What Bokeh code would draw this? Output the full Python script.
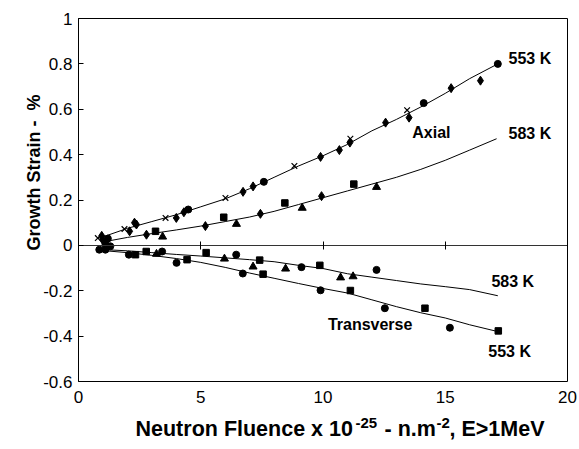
import math
from bokeh.plotting import figure
from bokeh.models import Label, FixedTicker, Range1d, LinearAxis, BoxAnnotation
from bokeh.embed import file_html
from bokeh.resources import INLINE

# ---------------- data ----------------
x_ticks = [0, 5, 10, 15, 20]
y_ticks = [-0.6, -0.4, -0.2, 0, 0.2, 0.4, 0.6, 0.8, 1]
y_tick_labels = ["-0.6", "-0.4", "-0.2", "0", "0.2", "0.4", "0.6", "0.8", "1"]

# Axial, 553 K
ax553_cross_x = [0.79, 1.88, 3.56, 6.01, 8.83, 11.12, 13.44]
ax553_cross_y = [0.032, 0.072, 0.121, 0.209, 0.35, 0.47, 0.596]
ax553_diam_x = [0.95, 2.09, 2.29, 2.37, 4.0, 4.31, 6.73, 7.14, 9.9, 10.67, 11.1, 12.56, 13.52, 15.24, 16.44]
ax553_diam_y = [0.042, 0.062, 0.10, 0.092, 0.121, 0.146, 0.236, 0.26, 0.39, 0.42, 0.453, 0.541, 0.563, 0.693, 0.726]
ax553_circ_x = [1.2, 4.49, 7.58, 14.12, 17.15]
ax553_circ_y = [0.03, 0.158, 0.28, 0.627, 0.80]
ax553_fit_x = [0.8, 2, 3, 4, 5, 6, 7, 8, 9, 10, 11, 12, 13, 14, 15, 16, 17.15]
ax553_fit_y = [0.03, 0.075, 0.105, 0.135, 0.17, 0.205, 0.25, 0.30, 0.35, 0.395, 0.445, 0.505, 0.555, 0.61, 0.67, 0.735, 0.80]

# Axial, 583 K
ax583_diam_x = [1.0, 2.78, 5.19, 7.44, 9.94]
ax583_diam_y = [0.022, 0.047, 0.085, 0.139, 0.217]
ax583_sq_x = [1.1, 3.15, 5.94, 8.44, 11.26]
ax583_sq_y = [0.008, 0.062, 0.124, 0.187, 0.27]
ax583_tri_x = [3.44, 6.46, 9.15, 12.19]
ax583_tri_y = [0.038, 0.094, 0.165, 0.257]
ax583_fit_x = [1.0, 2, 3, 4, 5, 6, 7, 8, 9, 10, 11, 12, 13, 14, 15, 16, 17.1]
ax583_fit_y = [0.015, 0.035, 0.052, 0.068, 0.085, 0.105, 0.125, 0.15, 0.18, 0.21, 0.24, 0.27, 0.30, 0.335, 0.375, 0.42, 0.47]

# Transverse
tr_circ_x = [0.85, 1.1, 1.3, 2.06, 3.42, 4.01, 6.45, 6.72, 9.12, 9.9, 12.19, 12.53, 15.19]
tr_circ_y = [-0.019, -0.019, -0.004, -0.041, -0.027, -0.077, -0.041, -0.124, -0.096, -0.198, -0.108, -0.277, -0.363]
tr_sq_x = [2.33, 2.77, 4.44, 5.22, 7.41, 7.55, 9.87, 11.12, 14.17, 17.17]
tr_sq_y = [-0.041, -0.027, -0.063, -0.032, -0.065, -0.127, -0.088, -0.199, -0.277, -0.377]
tr_tri_x = [3.19, 5.97, 7.14, 8.47, 10.72, 11.23]
tr_tri_y = [-0.038, -0.059, -0.094, -0.103, -0.142, -0.137]
tr583_fit_x = [0.9, 2, 3, 4, 5, 6, 7, 8, 9, 10, 11, 12, 13, 14, 15, 16, 17.15]
tr583_fit_y = [-0.018, -0.024, -0.032, -0.04, -0.047, -0.055, -0.063, -0.072, -0.088, -0.102, -0.125, -0.14, -0.155, -0.17, -0.182, -0.195, -0.222]
tr553_fit_x = [0.9, 2, 3, 4, 5, 6, 7, 8, 9, 10, 11, 12, 13, 14, 15, 16, 17.15]
tr553_fit_y = [-0.022, -0.032, -0.044, -0.058, -0.075, -0.097, -0.122, -0.145, -0.168, -0.19, -0.21, -0.24, -0.27, -0.297, -0.32, -0.35, -0.38]

X0, X1 = 0, 20
Y0, Y1 = -0.6, 1

FONT = "Liberation Sans"
W, H = 579, 449
# pixel box of the data area inside the canvas
PL, PR, PT, PB = 78, 567, 18, 381
kx = (PR - PL) / (X1 - X0)
ky = (PB - PT) / (Y1 - Y0)

p = figure(width=W, height=H, output_backend="svg", toolbar_location=None,
           x_range=Range1d(X0 - PL / kx, X1 + (W - PR) / kx),
           y_range=Range1d(Y0 - (H - PB) / ky, Y1 + PT / ky),
           min_border=0, background_fill_color="white", border_fill_color="white")
p.grid.visible = False
p.outline_line_color = None

# plot box
p.add_layout(BoxAnnotation(left=X0, right=X1, bottom=Y0, top=Y1, fill_alpha=0,
                           line_color="black", line_width=1, line_alpha=1))

# x axis (labels along the bottom of the box)
xa = p.xaxis[0]
xa.fixed_location = Y0
xa.bounds = (X0, X1)
xa.ticker = FixedTicker(ticks=x_ticks)
xa.major_tick_in = 0
xa.major_tick_out = 0
xa.minor_tick_line_color = None
xa.axis_line_color = None
xa.major_label_standoff = 9
xa.major_label_text_font = FONT
xa.major_label_text_font_size = "17px"
xa.major_label_text_color = "black"

# y axis
ya = p.yaxis[0]
ya.fixed_location = X0
ya.bounds = (Y0, Y1)
ya.ticker = FixedTicker(ticks=y_ticks)
ya.major_label_overrides = {t: s for t, s in zip(y_ticks, y_tick_labels)}
ya.major_tick_in = 5
ya.major_tick_out = 0
ya.minor_tick_line_color = None
ya.axis_line_color = "black"
ya.major_tick_line_color = "black"
ya.major_label_standoff = 6
ya.major_label_text_font = FONT
ya.major_label_text_font_size = "17px"
ya.major_label_text_color = "black"

# zero axis with crossing ticks
za = LinearAxis(fixed_location=0, bounds=(X0, X1), ticker=FixedTicker(ticks=x_ticks),
                major_tick_in=4, major_tick_out=4, minor_tick_line_color=None,
                axis_line_color="#333333", major_tick_line_color="black",
                major_label_text_font_size="0px", major_label_text_alpha=0)
p.add_layout(za, "below")

# fitted lines
for fx, fy in [(ax553_fit_x, ax553_fit_y), (ax583_fit_x, ax583_fit_y),
               (tr583_fit_x, tr583_fit_y), (tr553_fit_x, tr553_fit_y)]:
    p.line(fx, fy, line_color="black", line_width=1)

# markers
p.scatter(ax553_cross_x, ax553_cross_y, marker="x", size=8, line_color="black", line_width=1.2)
for xs, ys in [(ax553_diam_x, ax553_diam_y), (ax583_diam_x, ax583_diam_y)]:
    p.scatter(xs, ys, marker="diamond", size=9, fill_color="black", line_color="black")
for xs, ys in [(ax553_circ_x, ax553_circ_y), (tr_circ_x, tr_circ_y)]:
    p.scatter(xs, ys, marker="circle", size=7, fill_color="black", line_color="black")
for xs, ys in [(ax583_sq_x, ax583_sq_y), (tr_sq_x, tr_sq_y)]:
    p.scatter(xs, ys, marker="square", size=6.5, fill_color="black", line_color="black")
for xs, ys in [(ax583_tri_x, ax583_tri_y), (tr_tri_x, tr_tri_y)]:
    p.scatter(xs, ys, marker="triangle", size=8, fill_color="black", line_color="black")

# in-plot labels
def lab(x, y, t):
    p.add_layout(Label(x=x, y=y, text=t, text_font=FONT, text_font_style="bold",
                       text_font_size="16px", text_baseline="middle", text_align="left",
                       text_color="black"))

lab(17.59, 0.823, "553 K")
lab(17.59, 0.491, "583 K")
lab(13.65, 0.497, "Axial")
lab(16.89, -0.159, "583 K")
lab(10.2, -0.35, "Transverse")
lab(16.76, -0.469, "553 K")

# axis titles: the frame fills the canvas, so screen units = canvas pixels (y from bottom)
p.add_layout(Label(x=33, y=H - 172, x_units="screen", y_units="screen", angle=math.pi / 2,
                   text="Growth Strain - \u00a0%", text_font=FONT, text_font_style="bold",
                   text_font_size="18px", text_align="center", text_baseline="middle",
                   text_color="black"))

def xl(cx, cy, t, size):
    p.add_layout(Label(x=cx, y=H - cy, x_units="screen", y_units="screen", text=t,
                       text_font=FONT, text_font_style="bold", text_font_size=size,
                       text_align="left", text_baseline="alphabetic", text_color="black"))

BASE = 428
SUP = 422
xl(135, BASE, "Neutron Fluence x 10", "21.5px")
xl(355, SUP, "-25", "15px")
xl(384, BASE, "- n.m", "21.5px")
xl(436, SUP, "-2", "15px")
xl(449, BASE, ", E>1MeV", "21.5px")

open("out.html", "w").write(file_html(p, INLINE))
